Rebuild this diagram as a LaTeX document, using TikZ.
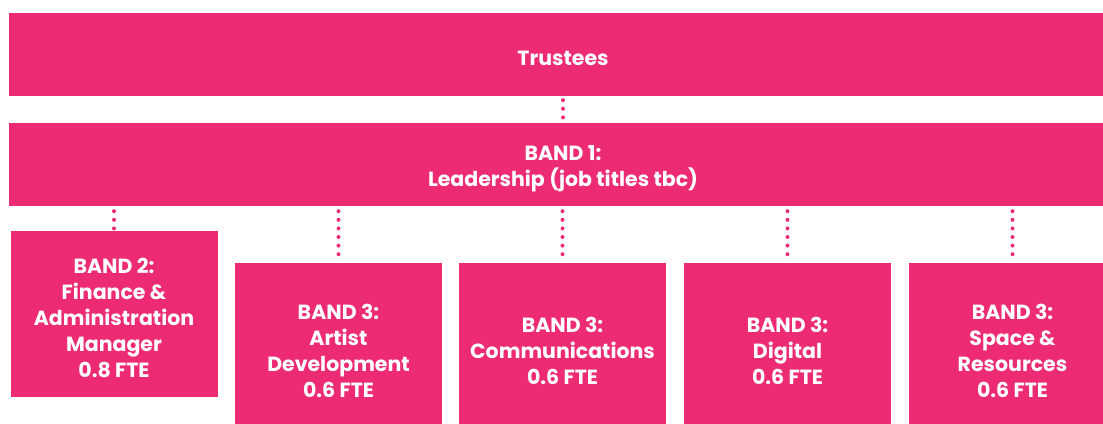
\documentclass[tikz,border=0pt]{standalone}
\usepackage{fontspec}
\setmainfont{Poppins}[BoldFont={* Bold}]
\definecolor{pinkc}{RGB}{237,43,116}
\newcommand{\topstrut}{\rule{0pt}{23pt}}
\tikzset{
  box/.style={fill=pinkc, draw=none, inner sep=0pt, text=white, align=center,
    font=\fontsize{20.5}{26}\selectfont\bfseries},
  dotline/.style={draw=pinkc, line width=4pt, line cap=round, dash pattern=on 0pt off 8.6pt}
}
\begin{document}
\begin{tikzpicture}[x=1pt,y=-1pt]
\useasboundingbox (0,0) rectangle (1103,423);
\clip (0,0) rectangle (1103,423);
\node[box, minimum width=1108pt, minimum height=83pt] (tr) at (563,54.5) {\topstrut Trustees};
\node[box, minimum width=1108pt, minimum height=83pt] (b1) at (563,164.5) {\topstrut BAND 1:\\Leadership (job titles tbc)};
\node[box, minimum width=207pt, minimum height=166pt] (b2) at (114,314) {\topstrut BAND 2:\\Finance \&\\Administration\\Manager\\0.8 FTE};
\node[box, minimum width=207pt, minimum height=168pt] (ad) at (338.5,347) {\topstrut BAND 3:\\Artist\\Development\\0.6 FTE};
\node[box, minimum width=207pt, minimum height=168pt] (cm) at (562.5,347) {\topstrut BAND 3:\\Communications\\0.6 FTE};
\node[box, minimum width=207pt, minimum height=168pt] (dg) at (787.5,347) {\topstrut BAND 3:\\Digital\\0.6 FTE};
\node[box, minimum width=207pt, minimum height=168pt] (sr) at (1012.5,347) {\topstrut BAND 3:\\Space \&\\Resources\\0.6 FTE};
\draw[dotline, shorten <=4pt] (tr.south) -- (b1.north);
\draw[dotline, shorten <=5pt] (b1.south -| b2.north) -- (b2.north);
\foreach \n in {ad,cm,dg,sr} {
  \draw[dotline, shorten <=5pt] (b1.south -| \n.north) -- (\n.north);
}
\end{tikzpicture}
\end{document}
